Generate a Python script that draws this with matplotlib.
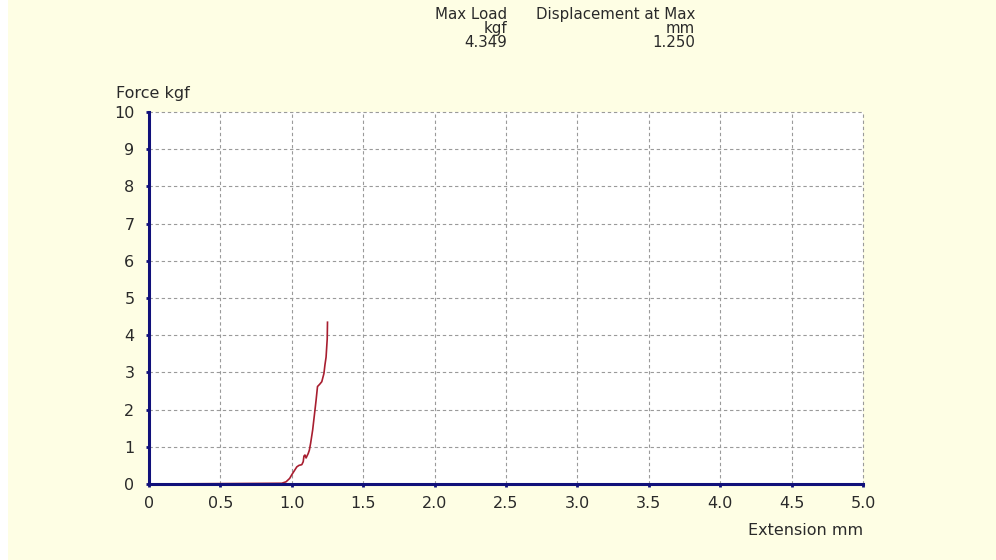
import matplotlib
matplotlib.use('Agg')
import matplotlib.pyplot as plt
from matplotlib.patches import Rectangle

# extension (mm) vs force (kgf)
extension = [0.00, 0.50, 0.93, 0.96, 0.985, 1.00, 1.02, 1.035, 1.05, 1.07, 1.08,
             1.085, 1.092, 1.10, 1.115, 1.123, 1.132, 1.146, 1.162, 1.17, 1.18,
             1.195, 1.21, 1.225, 1.232, 1.24, 1.248, 1.25]
force = [0.00, 0.01, 0.02, 0.06, 0.15, 0.25, 0.37, 0.46, 0.50, 0.52, 0.60,
         0.75, 0.78, 0.70, 0.82, 0.91, 1.10, 1.45, 1.98, 2.25, 2.62,
         2.68, 2.75, 2.97, 3.20, 3.41, 3.90, 4.349]

x_ticks = [0, 0.5, 1.0, 1.5, 2.0, 2.5, 3.0, 3.5, 4.0, 4.5, 5.0]
x_labels = ['0', '0.5', '1.0', '1.5', '2.0', '2.5', '3.0', '3.5', '4.0', '4.5', '5.0']
y_ticks = list(range(0, 11))

W, H = 996, 560
bg = '#fefee4'
navy = '#10107a'
txt = '#2a2a2a'
plt.rcParams['font.family'] = ['DejaVu Sans']
plt.rcParams['font.size'] = 11.5

fig = plt.figure(figsize=(W / 100, H / 100), dpi=100, facecolor=bg)
fig.patches.append(Rectangle((0, 0), 8 / W, 1, transform=fig.transFigure,
                             facecolor='white', edgecolor='none'))
ax = fig.add_axes([149 / W, 1 - 484 / H, 714 / W, 372 / H])
ax.set_facecolor('white')

ax.plot(extension, force, color='#a81e30', lw=1.2, zorder=3)

ax.set_xlim(0, 5)
ax.set_ylim(0, 10)
ax.set_xticks(x_ticks)
ax.set_xticklabels(x_labels)
ax.set_yticks(y_ticks)
ax.grid(True, color='#9a9a9a', linestyle=(0, (3, 2.5)), lw=0.8)
for gl in ax.get_xgridlines() + ax.get_ygridlines():
    gl.set_clip_on(False)

for side in ['top', 'right']:
    ax.spines[side].set_visible(False)
for side in ['left', 'bottom']:
    ax.spines[side].set_color(navy)
    ax.spines[side].set_linewidth(2.2)
    ax.spines[side].set_zorder(4)

ax.tick_params(axis='both', colors=navy, length=2, width=2, direction='out',
               labelcolor=txt)
ax.tick_params(axis='y', pad=8.5)
ax.tick_params(axis='x', pad=6.5)

fig.text(116 / W, 1 - 98 / H, 'Force kgf', ha='left', va='baseline', color=txt)
fig.text(863 / W, 1 - 535 / H, 'Extension mm', ha='right', va='baseline', color=txt)

# header with results, one block per column
i_max = force.index(max(force))
col1 = ['Max Load', 'kgf', '%.3f' % force[i_max]]
col2 = ['Displacement at Max', 'mm', '%.3f' % extension[i_max]]
for xr, col in [(507, col1), (695, col2)]:
    fig.text(xr / W, 1 - 7 / H, '\n'.join(col), ha='right', va='top',
             multialignment='right', linespacing=0.9, fontsize=10.8, color=txt)

fig.savefig('out.png', dpi=100, facecolor=bg)
